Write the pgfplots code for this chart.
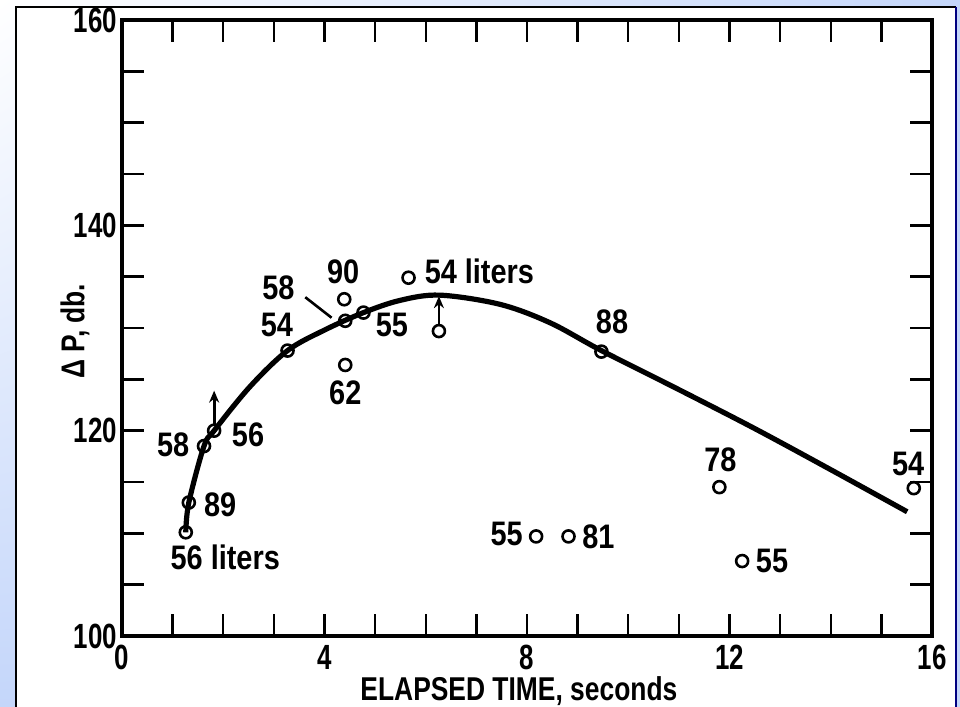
\documentclass[border=0pt]{standalone}
\usepackage{fontspec}
\setmainfont{Liberation Sans}[FakeStretch=0.85]
\newfontfamily\condfont{Liberation Sans}[FakeStretch=0.74]
\newfontfamily\labfont{Liberation Sans}[FakeStretch=0.8]
\usepackage{pgfplots}
\pgfplotsset{compat=1.18}
\usetikzlibrary{arrows.meta,shadings}

\definecolor{bgblue}{HTML}{C4D6FA}

\pgfplotstableread{
x y
1.26 110.1
1.32 113.0
1.62 118.5
1.82 120.0
2.53 124.3
3.27 127.8
4.00 129.8
4.77 131.5
5.50 132.7
6.28 133.2
7.47 132.3
8.46 130.5
9.47 127.8
11.00 124.0
12.50 120.2
14.00 116.2
15.51 112.1
}\curve

\pgfplotstableread{
x y
1.26 110.1
1.32 113.0
1.62 118.5
1.82 120.0
3.27 127.8
4.41 130.7
4.39 132.8
4.77 131.5
4.41 126.4
5.66 134.9
6.26 129.7
9.47 127.7
11.80 114.5
15.64 114.4
8.18 109.7
8.82 109.7
12.25 107.3
}\points

\begin{document}
\begin{tikzpicture}[font=\bfseries\fontsize{17}{20}\selectfont]
\shade[upper left=white, upper right=bgblue, lower left=bgblue, lower right=bgblue]
  (0,0) rectangle (480pt,353.5pt);
\fill[white] (8pt,0) rectangle (478pt,350pt);
\draw[black, line width=1.2pt] (8pt,0) -- (8pt,350pt) -- (478pt,350pt);
\draw[blue!50!black, line width=1.2pt] (478pt,350pt) -- (478pt,0);

\begin{axis}[
    at={(61pt,35.5pt)}, anchor=south west,
    scale only axis,
    width=405pt, height=308pt,
    xmin=0, xmax=16, ymin=100, ymax=160,
    xtick={0,4,8,12,16},
    minor xtick={1,2,3,5,6,7,9,10,11,13,14,15},
    ytick={100,120,140,160},
    minor ytick={105,110,115,125,130,135,145,150,155},
    tick align=inside,
    major tick length=11pt, minor tick length=11pt,
    every tick/.style={black, line width=1.2pt},
    axis line style={line width=1.8pt},
    /pgf/number format/assume math mode=true,
    ticklabel style={font=\condfont\bfseries\fontsize{17.5}{20}\selectfont},
    yticklabel style={xshift=1pt},
    xticklabel style={yshift=-1pt},
    xlabel={ELAPSED TIME, seconds},
    xlabel style={at={(axis description cs:0.49,0)}, anchor=center, yshift=-27.5pt, font=\labfont\bfseries\fontsize{16.5}{20}\selectfont},
    ylabel={Δ P, db.},
    ylabel style={at={(axis description cs:-0.058,0.495)}, anchor=center, font=\labfont\bfseries\fontsize{16.5}{20}\selectfont},
    clip=false,
]
\addplot[black, line width=2.6pt, smooth, tension=0.55] table {\curve};
\addplot[only marks, mark=o, mark size=3pt, mark options={line width=1.3pt, fill=white, draw=black}] table {\points};

\draw[line width=1.4pt, -{Stealth[length=6pt,width=5pt]}] (axis cs:1.82,120.6) -- (axis cs:1.82,123.9);
\draw[line width=1.4pt, -{Stealth[length=6pt,width=5pt]}] (axis cs:6.26,130.3) -- (axis cs:6.26,133.1);
\draw[line width=1.3pt] (axis cs:3.62,133.0) -- (axis cs:4.14,131.0);

\node at (axis cs:2.04,107.7) {56 liters};
\node at (axis cs:1.94,112.8) {89};
\node at (axis cs:1.01,118.6) {58};
\node at (axis cs:2.49,119.6) {56};
\node at (axis cs:3.06,130.3) {54};
\node at (axis cs:3.09,133.9) {58};
\node at (axis cs:4.37,135.5) {90};
\node at (axis cs:5.33,130.3) {55};
\node at (axis cs:4.41,123.7) {62};
\node at (axis cs:7.06,135.5) {54 liters};
\node at (axis cs:9.68,130.6) {88};
\node at (axis cs:11.82,117.2) {78};
\node at (axis cs:15.53,116.8) {54};
\node at (axis cs:7.60,109.9) {55};
\node at (axis cs:9.41,109.7) {81};
\node at (axis cs:12.84,107.3) {55};
\end{axis}
\pgfresetboundingbox
\useasboundingbox (0,0) rectangle (480pt,353.5pt);
\end{tikzpicture}
\end{document}
